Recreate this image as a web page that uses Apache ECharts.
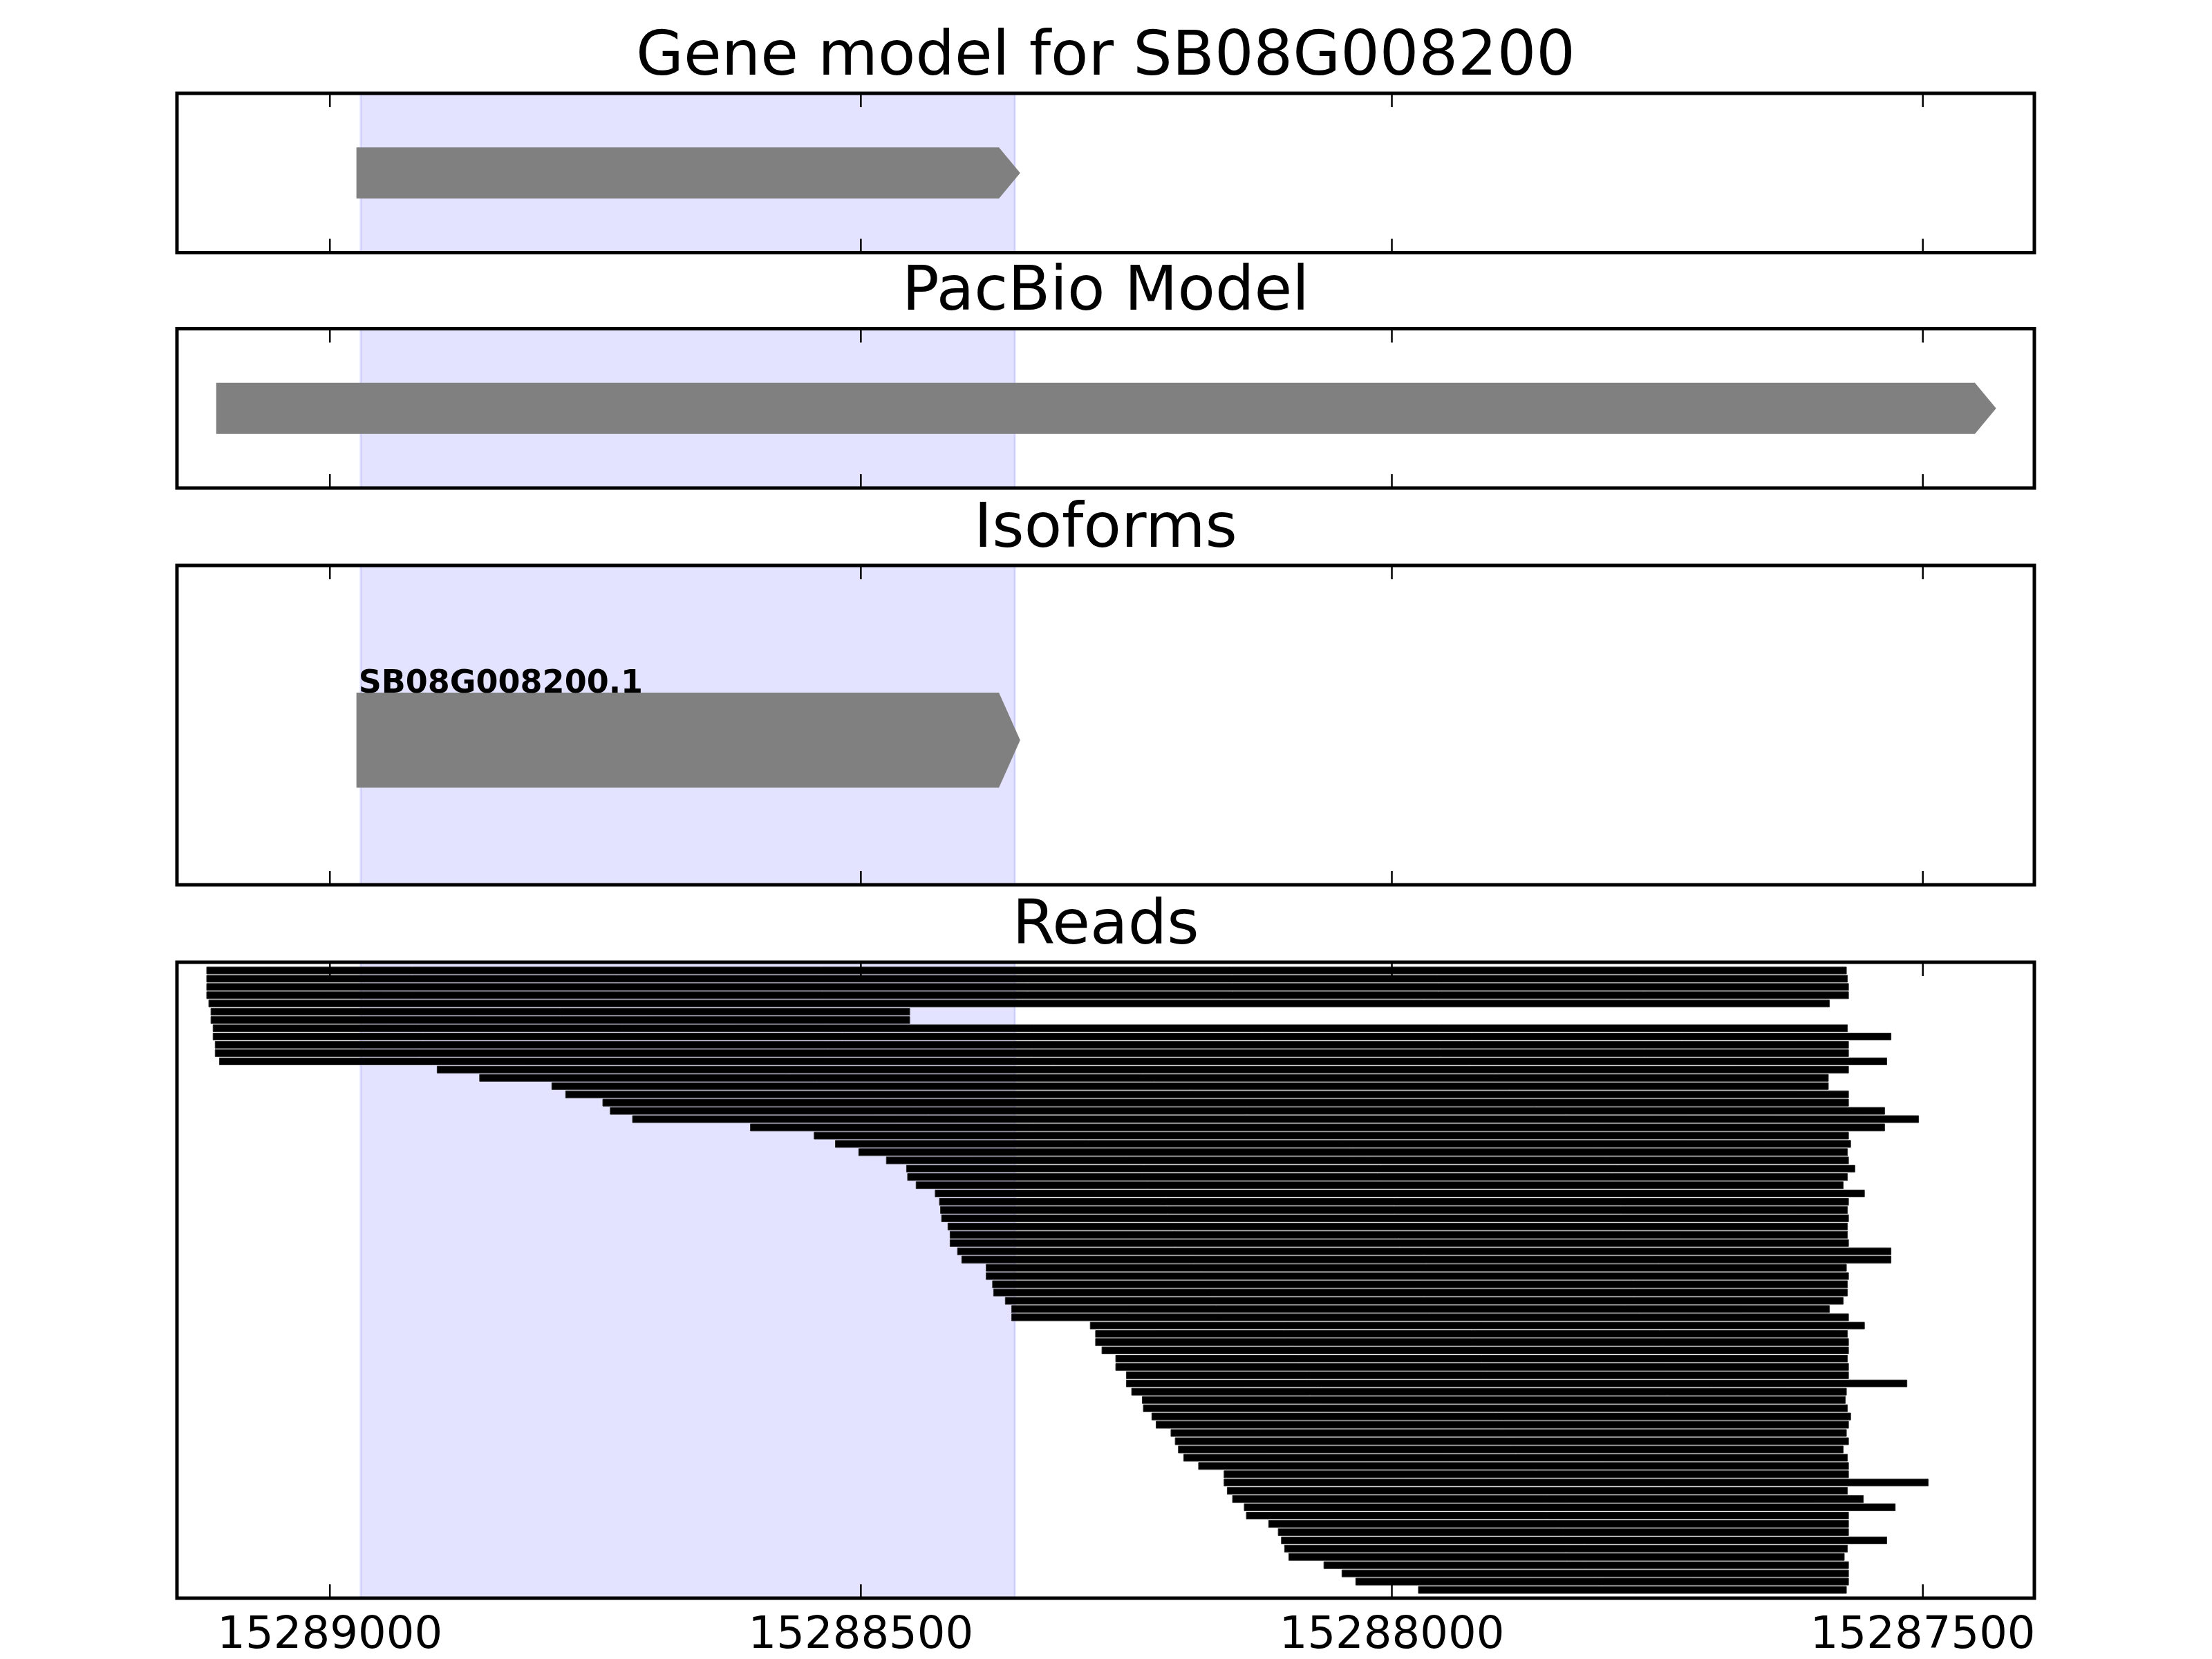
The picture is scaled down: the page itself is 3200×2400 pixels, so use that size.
<!DOCTYPE html>
<html><head><meta charset="utf-8">
<script src="https://cdn.jsdelivr.net/npm/echarts@6/dist/echarts.min.js"></script>
<style>html,body{margin:0;padding:0;background:#fff}#c{width:3200px;height:2400px}</style>
</head><body><div id="c"></div>
<script>
// ---------------- data ----------------
const panelTitles = ['Gene model for SB08G008200', 'PacBio Model', 'Isoforms', 'Reads'];
const tickValues = [15289000, 15288500, 15288000, 15287500];
const xRange = [15287395, 15289144];
const highlightRegion = [15288971, 15288355];
const geneModel = [15288975, 15288350];
const pacbioModel = [15289107, 15287431];
const isoformNames = ['SB08G008200.1'];
const isoformStarts = [15288975];
const isoformEnds = [15288350];
const readStarts = [
 15289116,15289116,15289116,15289116,15289114,15289112,15289112,15289110,15289110,15289108,
 15289108,15289104,15288899,15288859,15288791,15288778,15288743,15288736,15288715,15288604,
 15288544,15288524,15288502,15288476,15288457,15288456,15288448,15288430,15288426,15288425,
 15288424,15288418,15288416,15288416,15288409,15288405,15288382,15288382,15288376,15288375,
 15288364,15288358,15288358,15288284,15288279,15288279,15288273,15288260,15288260,15288250,
 15288250,15288245,15288235,15288234,15288226,15288222,15288208,15288204,15288201,15288196,
 15288182,15288158,15288158,15288155,15288150,15288139,15288137,15288116,15288107,15288104,
 15288101,15288097,15288064,15288047,15288034,15287975];
const readEnds = [
 15287572,15287571,15287570,15287570,15287588,15288454,15288454,15287571,15287530,15287570,
 15287570,15287534,15287570,15287589,15287589,15287570,15287570,15287536,15287504,15287536,
 15287570,15287568,15287571,15287570,15287564,15287571,15287575,15287555,15287570,15287571,
 15287570,15287571,15287571,15287570,15287530,15287530,15287572,15287570,15287571,15287571,
 15287575,15287588,15287570,15287555,15287571,15287570,15287570,15287571,15287570,15287570,
 15287515,15287572,15287573,15287571,15287568,15287570,15287572,15287570,15287575,15287571,
 15287570,15287570,15287495,15287571,15287556,15287526,15287570,15287570,15287570,15287534,
 15287571,15287574,15287570,15287570,15287570,15287572];

// ---------------- layout / style ----------------
const FONT = 'DejaVu Sans';
const gridLeft = 256, gridWidth = 2687;
const panels = [{top:135,h:230.5},{top:475.5,h:230.5},{top:818,h:462},{top:1392,h:920}];
const headLen = 20; // arrow head length in axis units
const tickLen = 20;
const nRows = readStarts.length;

const grids = [], xAxes = [], yAxes = [], series = [];
panels.forEach((p, g) => {
  grids.push({left: gridLeft, width: gridWidth, top: p.top, height: p.h, show: true,
    borderColor: '#000', borderWidth: 5, backgroundColor: 'transparent', z: 10});
  xAxes.push({type:'value', gridIndex:g, position:'bottom', inverse:true, min:xRange[0], max:xRange[1],
    splitLine:{show:false}, axisLine:{show:false}, axisTick:{show:false}, z: 11,
    axisLabel:{show: g === 3, customValues: tickValues, fontSize:64, fontFamily:FONT,
      color:'#000', margin:55, verticalAlign:'middle', formatter: v => String(v)}
  });
  yAxes.push({type:'value', gridIndex:g, min:0, max: g === 3 ? nRows + 1 : 1, inverse:true, show:false});
  // highlight region
  series.push({type:'custom', xAxisIndex:g, yAxisIndex:g, silent:true, z:1,
    encode:{x:[0,1], y:2}, data:[[highlightRegion[0], highlightRegion[1], 0.5]],
    renderItem:(params, api) => {
      const cs = params.coordSys;
      const x1 = api.coord([api.value(0), 0])[0], x2 = api.coord([api.value(1), 0])[0];
      return {type:'rect', shape:{x:Math.min(x1,x2), y:cs.y, width:Math.abs(x2-x1), height:cs.height},
        style:{fill:'rgba(0,0,255,0.11)', stroke:'rgba(0,0,255,0.11)', lineWidth:3}};
    }});
  // inward tick marks on top and bottom edges, placed through the x scale
  series.push({type:'custom', xAxisIndex:g, yAxisIndex:g, silent:true, z:12,
    encode:{x:0, y:1}, data: tickValues.map(v => [v, 0.5]),
    renderItem:(params, api) => {
      const cs = params.coordSys;
      const x = api.coord([api.value(0), 0])[0];
      const st = {stroke:'#000', lineWidth:2.5};
      return {type:'group', children:[
        {type:'line', shape:{x1:x, y1:cs.y, x2:x, y2:cs.y + tickLen}, style:st},
        {type:'line', shape:{x1:x, y1:cs.y + cs.height, x2:x, y2:cs.y + cs.height - tickLen}, style:st}
      ]};
    }});
});

function arrowItem(centerFrac, halfFrac, label) {
  return (params, api) => {
    const cs = params.coordSys;
    const xa = api.coord([api.value(0), 0])[0];
    const xb = api.coord([api.value(1), 0])[0];
    const yc = cs.y + cs.height * centerFrac;
    const hh = cs.height * halfFrac;
    const head = api.size([headLen, 0])[0];
    const children = [{type:'polygon', shape:{points:[[xa,yc-hh],[xb-head,yc-hh],[xb,yc],[xb-head,yc+hh],[xa,yc+hh]]},
      style:{fill:'#808080'}}];
    if (label) {
      children.push({type:'text', x: xa + 3, y: yc - hh - 12,
        style:{text: isoformNames[params.dataIndex], fontSize:46, fontWeight:'bold', fontFamily:FONT,
          fill:'#000', align:'left', verticalAlign:'middle'}});
    }
    return {type:'group', children};
  };
}

series.push({type:'custom', xAxisIndex:0, yAxisIndex:0, z:3, silent:true, encode:{x:[0,1], y:2},
  data:[[geneModel[0], geneModel[1], 0.5]], renderItem: arrowItem(0.5, 0.16, false)});
series.push({type:'custom', xAxisIndex:1, yAxisIndex:1, z:3, silent:true, encode:{x:[0,1], y:2},
  data:[[pacbioModel[0], pacbioModel[1], 0.5]], renderItem: arrowItem(0.5, 0.16, false)});
series.push({type:'custom', xAxisIndex:2, yAxisIndex:2, z:3, silent:true, encode:{x:[0,1], y:2},
  data: isoformStarts.map((s,i) => [s, isoformEnds[i], 0.5]), renderItem: arrowItem(0.547, 0.149, true)});

series.push({type:'custom', xAxisIndex:3, yAxisIndex:3, z:3, silent:true, encode:{x:[0,1], y:2},
  data: readStarts.map((s,i) => [s, readEnds[i], i + 1]),
  renderItem:(params, api) => {
    const p1 = api.coord([api.value(0), api.value(2)]);
    const p2 = api.coord([api.value(1), api.value(2)]);
    const h = api.size([0, 1])[1] * 0.84;
    return {type:'rect', shape:{x:p1[0], y:p1[1]-h/2, width:p2[0]-p1[0], height:h},
      style:{fill:'#000', stroke:'#2a2a2a', lineWidth:1}};
  }});

const chart = echarts.init(document.getElementById('c'), null, {renderer:'canvas'});
chart.setOption({
  animation:false,
  backgroundColor:'#fff',
  grid: grids, xAxis: xAxes, yAxis: yAxes, series,
  graphic: panelTitles.map((t,i) => ({type:'text', x:1599.5, y: panels[i].top - 50.5, z:20,
    style:{text:t, fontSize:89, fontFamily:FONT, fill:'#000', align:'center', verticalAlign:'middle'}}))
});
</script>
</body></html>
